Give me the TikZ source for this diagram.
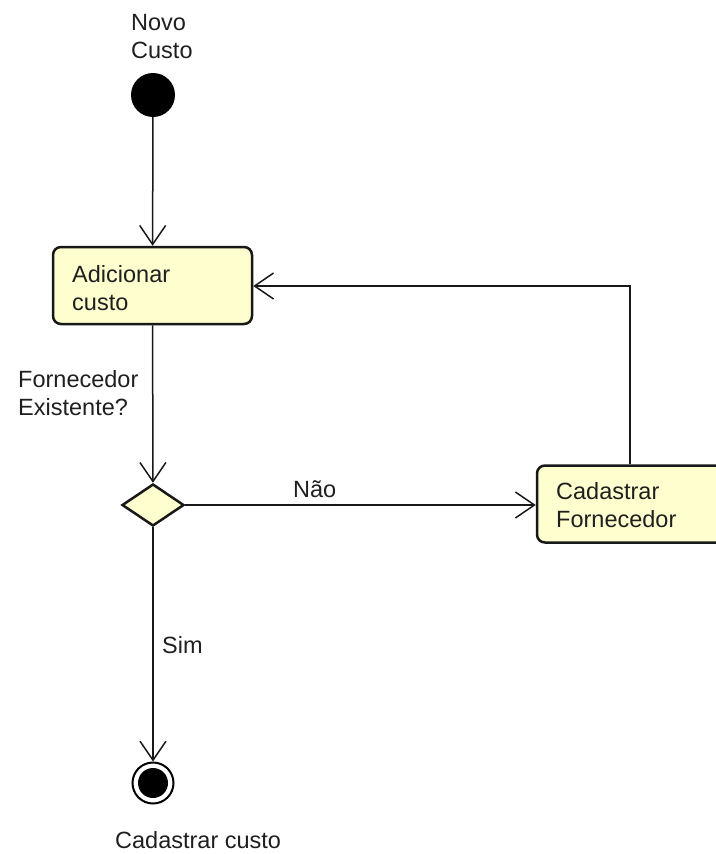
\documentclass[tikz,border=0pt]{standalone}
\usepackage{fontspec}
\setmainfont{Liberation Sans}
\usetikzlibrary{arrows.meta,shapes.geometric}
\definecolor{actfill}{HTML}{FEFECE}
\definecolor{ink}{HTML}{181818}
\tikzset{
  flow/.style={line width=1.5pt, draw=ink,
    -{Straight Barb[length=19pt,width=26pt,line width=1.5pt]}},
  activity/.style={draw=ink, fill=actfill, line width=2.5pt,
    rounded corners=8pt, minimum height=77pt, inner sep=0pt},
  decision/.style={diamond, draw=ink, fill=actfill, line width=2.5pt,
    minimum width=62pt, minimum height=42pt, inner sep=0pt, aspect=1.5},
  lbl/.style={font=\fontsize{23.5}{28}\selectfont, text=black!88, inner sep=0pt,
    anchor=base west, align=left},
}
\begin{document}
\begin{tikzpicture}[x=1pt,y=-1pt]
\useasboundingbox (0,0) rectangle (715,854);

% initial node
\node[circle, fill=black, minimum size=44pt, inner sep=0pt] (start) at (153,95) {};
\node[lbl] (startlbl) at (131,58) {Novo\\Custo};

% activities
\node[activity, minimum width=199pt] (add) at (152.5,285.5) {};
\node[lbl] (addlbl) at (72,310) {Adicionar\\custo};

\node[activity, minimum width=190pt] (forn) at (632,504) {};
\node[lbl] (fornlbl) at (556,527) {Cadastrar\\Fornecedor};

% decision
\node[decision] (dec) at (153,505) {};
\node[lbl] (declbl) at (18,415) {Fornecedor\\Existente?};

% final node
\node[circle, draw=black, line width=2pt, minimum size=41pt, inner sep=0pt] (endo) at (153,783) {};
\node[circle, fill=black, minimum size=30pt, inner sep=0pt] (endi) at (153,783) {};
\node[lbl] (endlbl) at (115,848) {Cadastrar custo};

% connectors
\draw[flow] (start) -- (add);
\draw[flow] (add) -- (dec);
\draw[flow] (dec.east) -- (forn.west |- dec.east);
\node[lbl] (nao) at (293,497) {Não};
\coordinate (up) at (630,286);
\draw[flow] (forn.north -| up) -- (up) -- (add.east |- up);
\draw[flow] (dec.south) -- (endo.north);
\node[lbl] (sim) at (162,653) {Sim};
\end{tikzpicture}
\end{document}
